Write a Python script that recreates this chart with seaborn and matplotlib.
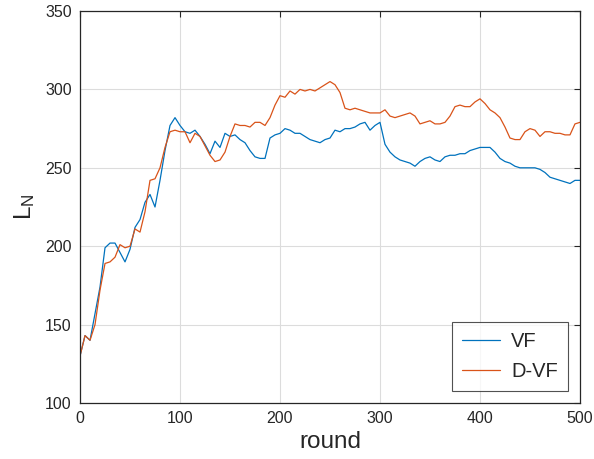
import numpy as np
import pandas as pd
import matplotlib
matplotlib.use("Agg")
import matplotlib.pyplot as plt
import seaborn as sns

rounds = list(range(0, 501, 5))

vf = [130, 143, 140, 157, 174, 199, 202, 202, 196, 190,
      198, 212, 217, 228, 233, 225, 242, 261, 277, 282,
      277, 273, 272, 274, 270, 265, 259, 267, 263, 272,
      270, 271, 268, 266, 261, 257, 256, 256, 269, 271,
      272, 275, 274, 272, 272, 270, 268, 267, 266, 268,
      269, 274, 273, 275, 275, 276, 278, 279, 274, 277,
      279, 265, 260, 257, 255, 254, 253, 251, 254, 256,
      257, 255, 254, 257, 258, 258, 259, 259, 261, 262,
      263, 263, 263, 260, 256, 254, 253, 251, 250, 250,
      250, 250, 249, 247, 244, 243, 242, 241, 240, 242,
      242]

dvf = [130, 143, 140, 150, 172, 189, 190, 193, 201, 199,
       200, 211, 209, 222, 242, 243, 250, 263, 273, 274,
       273, 273, 266, 272, 270, 264, 258, 254, 255, 260,
       270, 278, 277, 277, 276, 279, 279, 277, 282, 290,
       296, 295, 299, 297, 300, 299, 300, 299, 301, 303,
       305, 303, 298, 288, 287, 288, 287, 286, 285, 285,
       285, 287, 283, 282, 283, 284, 285, 283, 278, 279,
       280, 278, 278, 279, 283, 289, 290, 289, 289, 292,
       294, 291, 287, 285, 282, 276, 269, 268, 268, 273,
       275, 274, 270, 273, 273, 272, 272, 271, 271, 278,
       279]

series_names = ["VF", "D-VF"]
colors = ["#0072BD", "#D95319"]

df = pd.concat([
    pd.DataFrame({"round": rounds, "L": vf, "method": series_names[0]}),
    pd.DataFrame({"round": rounds, "L": dvf, "method": series_names[1]}),
])

sns.set_theme(style="white")
plt.rcParams["font.family"] = ["Liberation Sans", "DejaVu Sans"]
plt.rcParams["mathtext.default"] = "regular"

fig = plt.figure(figsize=(5.94, 4.59), dpi=100)
ax = fig.add_axes([0.1347, 0.122, 0.8417, 0.854])

sns.lineplot(data=df, x="round", y="L", hue="method", palette=colors,
             hue_order=series_names, linewidth=0.9, ax=ax, legend=True)

ax.set_xlim(0, 500)
ax.set_ylim(100, 350)
ax.set_xticks([0, 100, 200, 300, 400, 500])
ax.set_yticks([100, 150, 200, 250, 300, 350])
ax.grid(True, color="#dcdcdc", linewidth=0.8)
ax.set_axisbelow(True)
for s in ax.spines.values():
    s.set_color("#262626")
    s.set_linewidth(0.9)
ax.tick_params(direction="in", length=4, width=0.8, colors="#262626",
               labelsize=11.5, top=True, right=True, pad=6,
               labelcolor="#262626")
ax.set_xlabel("round", fontsize=17.5, color="#262626", labelpad=3)
ax.set_ylabel("L$_{N}$", fontsize=17.5, color="#262626", labelpad=6)

leg = ax.legend(loc="lower right", fontsize=14.5, frameon=True, fancybox=False,
                edgecolor="#262626", borderaxespad=0.6, handlelength=1.9,
                borderpad=0.5, labelspacing=0.55, handletextpad=0.55)
leg.get_frame().set_linewidth(0.8)

fig.savefig("out.png", dpi=100, facecolor="white")
